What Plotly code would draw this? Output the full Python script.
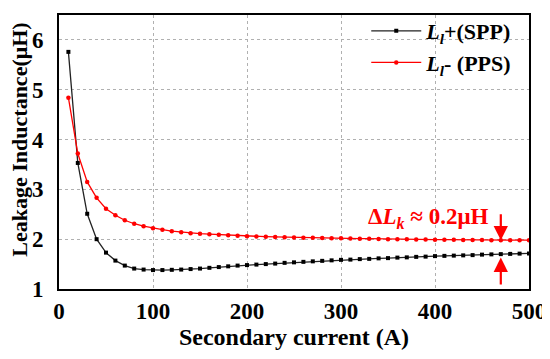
import plotly.graph_objects as go

current = list(range(10, 501, 10))

l_spp = [5.76, 3.53, 2.51, 2.00, 1.73, 1.57, 1.47, 1.41, 1.39, 1.38,
         1.38, 1.385, 1.39, 1.40, 1.41, 1.425, 1.44, 1.455, 1.47, 1.48,
         1.49, 1.50, 1.51, 1.525, 1.535, 1.545, 1.555, 1.565, 1.575, 1.585,
         1.59, 1.60, 1.605, 1.615, 1.62, 1.63, 1.635, 1.645, 1.65, 1.66,
         1.665, 1.67, 1.675, 1.68, 1.69, 1.695, 1.70, 1.705, 1.71, 1.715]

l_pps = [4.84, 3.72, 3.15, 2.83, 2.61, 2.48, 2.38, 2.31, 2.26, 2.22,
         2.19, 2.16, 2.14, 2.12, 2.11, 2.10, 2.09, 2.08, 2.07, 2.06,
         2.055, 2.05, 2.045, 2.04, 2.035, 2.03, 2.03, 2.025, 2.02, 2.02,
         2.015, 2.01, 2.01, 2.005, 2.0, 2.0, 2.0, 1.995, 1.995, 1.99,
         1.99, 1.99, 1.985, 1.985, 1.985, 1.98, 1.98, 1.98, 1.98, 1.98]

x_ticks = [0, 100, 200, 300, 400, 500]
y_ticks = [1, 2, 3, 4, 5, 6]

arrow_x = 470
idx = current.index(arrow_x)

FONT = "'Liberation Serif', 'Times New Roman', serif"

fig = go.Figure()
fig.add_trace(go.Scatter(
    x=current, y=l_spp, mode="lines+markers",
    name="<b><i>L</i><sub><i>l</i></sub>+(SPP)</b>",
    line=dict(color="#222222", width=1.3),
    marker=dict(symbol="square", size=4, color="black"),
))
fig.add_trace(go.Scatter(
    x=current, y=l_pps, mode="lines+markers",
    name="<b><i>L</i><sub><i>l</i></sub>- (PPS)</b>",
    line=dict(color="red", width=1.3),
    marker=dict(symbol="circle", size=4.5, color="red"),
))

# Delta annotation
fig.add_annotation(
    x=arrow_x - 11, y=2.42, xref="x", yref="y",
    text="<b>Δ<i>L</i><sub><i>k</i></sub> ≈ 0.2μH</b>",
    showarrow=False, xanchor="right", yanchor="middle",
    font=dict(family=FONT, size=23, color="red"),
)
fig.add_annotation(
    x=arrow_x, y=l_pps[idx], xref="x", yref="y",
    ax=arrow_x, ay=2.53, axref="x", ayref="y",
    text="", showarrow=True, arrowhead=2, arrowsize=1.3,
    arrowwidth=2.2, arrowcolor="red",
)
fig.add_annotation(
    x=arrow_x, y=l_spp[idx] - 0.07, xref="x", yref="y",
    ax=arrow_x, ay=1.06, axref="x", ayref="y",
    text="", showarrow=True, arrowhead=2, arrowsize=1.3,
    arrowwidth=2.2, arrowcolor="red",
)

# y-axis title (placed as rotated text)
fig.add_annotation(
    x=0, xref="paper", xshift=-39, xanchor="center",
    y=0.545, yref="paper", yanchor="middle",
    text="<b>Leakage Inductance(μH)</b>", textangle=-90, showarrow=False,
    font=dict(family=FONT, size=22, color="black"),
)

axis_common = dict(
    showline=True, linecolor="black", linewidth=2, mirror=True,
    showgrid=True, gridcolor="#b0b0b0", griddash="dot", gridwidth=1,
    ticks="", zeroline=False, automargin=False,
    tickfont=dict(family=FONT, size=23, color="black", weight="bold"),
)

fig.update_xaxes(
    range=[0, 500], tickvals=x_ticks,
    title_text="Secondary current (A)", title_standoff=5,
    title_font=dict(family=FONT, size=24, color="black", weight="bold"),
    ticklabelstandoff=0,
    **axis_common,
)
fig.update_yaxes(
    range=[1, 6.5], tickvals=y_ticks,
    ticklabelstandoff=9,
    **axis_common,
)

# page body adds an 8px offset; size the figure so the plot area lands in place
fig.update_layout(
    width=542, height=351,
    margin=dict(l=51, r=21, t=2, b=70),
    plot_bgcolor="white", paper_bgcolor="white",
    font=dict(family=FONT, color="black"),
    legend=dict(
        x=0.975, y=1.018, xanchor="right", yanchor="top",
        bgcolor="rgba(0,0,0,0)",
        font=dict(family=FONT, size=22, color="black"),
        itemwidth=50, tracegroupgap=0,
    ),
)

fig.write_html("out.html")
